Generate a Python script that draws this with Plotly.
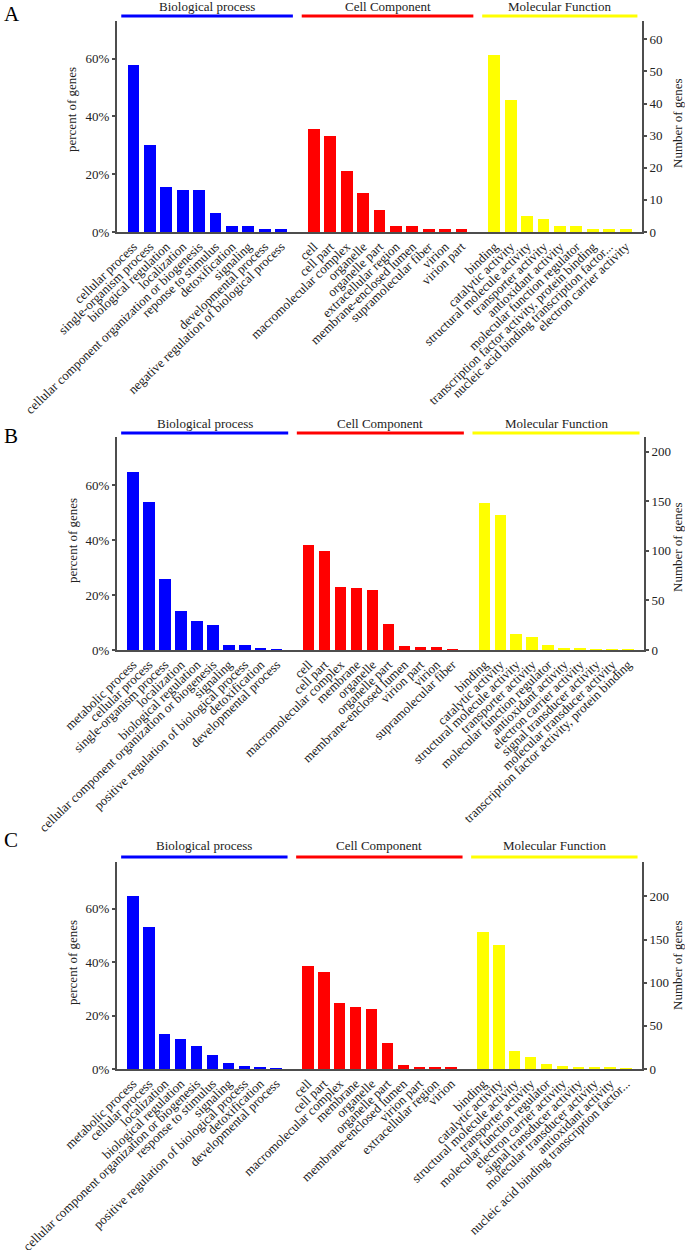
import plotly.graph_objects as go

FONT = "Liberation Serif"
W, H = 685, 1250

group_names = ["Biological process", "Cell Component", "Molecular Function"]
group_colors = ["#0000ff", "#ff0000", "#ffff00"]

# panel A
total_a = 90
a_bp = ["cellular process", "single-organism process", "biological regulation", "localization",
        "cellular component organization or biogenesis", "reponse to stimulus", "detoxification",
        "signaling", "developmental process", "negative regulation of biological process"]
a_bp_n = [52, 27, 14, 13, 13, 6, 2, 2, 1, 1]
a_cc = ["cell", "cell part", "macromolecular complex", "organelle", "organelle part",
        "extracellular region", "membrane-enclosed lumen", "supramolecular fiber", "virion", "virion part"]
a_cc_n = [32, 30, 19, 12, 7, 2, 2, 1, 1, 1]
a_mf = ["binding", "catalytic activity", "structural molecule activity", "transporter activity",
        "antioxidant activity", "molecular function regulator",
        "transcription factor activity, protein binding", "nucleic acid binding transcription factor...",
        "electron carrier activity"]
a_mf_n = [55, 41, 5, 4, 2, 2, 1, 1, 1]

# panel B
total_b = 277
b_bp = ["metabolic process", "cellular process", "single-organism process", "localization",
        "biological regulation", "cellular component organization or biogenesis", "signaling",
        "positive regulation of biological process", "detoxification", "developmental process"]
b_bp_n = [179, 149, 72, 39, 29, 25, 5, 5, 2, 1]
b_cc = ["cell", "cell part", "macromolecular complex", "membrane", "organelle", "organelle part",
        "membrane-enclosed lumen", "virion part", "virion", "supramolecular fiber"]
b_cc_n = [106, 100, 64, 62, 60, 26, 4, 3, 3, 1]
b_mf = ["binding", "catalytic activity", "structural molecule activity", "transporter activity",
        "molecular function regulator", "antioxidant activity", "electron carrier activity",
        "signal transducer activity", "molecular transducer activity",
        "transcription factor activity, protein binding"]
b_mf_n = [148, 136, 16, 13, 5, 2, 2, 1, 1, 1]

# panel C
total_c = 310
c_bp = ["metabolic process", "cellular process", "localization", "biological regulation",
        "cellular component organization or biogenesis", "response to stimulus", "signaling",
        "positive regulation of biological process", "detoxification", "developmental process"]
c_bp_n = [200, 165, 40, 35, 27, 16, 7, 4, 2, 1]
c_cc = ["cell", "cell part", "macromolecular complex", "membrane", "organelle", "organelle part",
        "membrane-enclosed lumen", "virion part", "extracellular region", "virion"]
c_cc_n = [119, 113, 76, 72, 70, 30, 5, 2, 2, 2]
c_mf = ["binding", "catalytic activity", "structural molecule activity", "transporter activity",
        "molecular function regulator", "electron carrier activity", "signal transducer activity",
        "molecular transducer activity", "antioxidant activity",
        "nucleic acid binding transcription factor..."]
c_mf_n = [159, 144, 21, 14, 6, 3, 2, 2, 2, 1]

pct_ticks = [0, 20, 40, 60]

# pixel geometry of each panel (top/bottom of plot area, left/right axes)
panels = [
    dict(label="A", total=total_a, groups=[(a_bp, a_bp_n), (a_cc, a_cc_n), (a_mf, a_mf_n)],
         top=21, bottom=232, left=117, right=642, pmax=73, dtick=10,
         head_y=6, line_y=16, letter_y=14, ltitle_y=110, rtitle_y=123),
    dict(label="B", total=total_b, groups=[(b_bp, b_bp_n), (b_cc, b_cc_n), (b_mf, b_mf_n)],
         top=437, bottom=650, left=117, right=644, pmax=77.5, dtick=50,
         head_y=423, line_y=433, letter_y=436, ltitle_y=541, rtitle_y=547),
    dict(label="C", total=total_c, groups=[(c_bp, c_bp_n), (c_cc, c_cc_n), (c_mf, c_mf_n)],
         top=862, bottom=1069, left=117, right=642, pmax=77.4, dtick=50,
         head_y=845, line_y=857, letter_y=840, ltitle_y=963, rtitle_y=965),
]


def px(x):
    return x / W


def py(y):
    return 1 - y / H


fig = go.Figure()
shapes = []
annotations = []
axis_col = "#4d4d4d"
txt_col = "#222222"


def note(text, x, y, size=13, angle=0, xref="paper", color=txt_col, xanchor="center"):
    annotations.append(dict(text=text, xref=xref, yref="paper", x=x, y=y, textangle=angle,
                            xanchor=xanchor, yanchor="middle", showarrow=False,
                            font=dict(family=FONT, size=size, color=color)))


for k, p in enumerate(panels):
    xa = "x" if k == 0 else f"x{k + 1}"
    yl = "y" if k == 0 else f"y{2 * k + 1}"
    yr = f"y{2 * k + 2}"
    pos = 0
    tickvals, ticktext = [], []
    for g, (terms, counts) in enumerate(p["groups"]):
        xs = list(range(pos, pos + len(terms)))
        pct = [c / p["total"] * 100 for c in counts]
        fig.add_trace(go.Bar(x=xs, y=pct, width=0.72, marker_color=group_colors[g],
                             marker_line_width=0, xaxis=xa, yaxis=yl, showlegend=False))
        fig.add_trace(go.Scatter(x=xs, y=counts, mode="markers", marker_opacity=0,
                                 hoverinfo="skip", xaxis=xa, yaxis=yr, showlegend=False))
        tickvals += xs
        ticktext += terms
        # group header line + title
        x0, x1 = xs[0] - 0.74, xs[-1] + 0.72
        shapes.append(dict(type="line", xref=xa, yref="paper", x0=x0, x1=x1,
                           y0=py(p["line_y"]), y1=py(p["line_y"]),
                           line=dict(color=group_colors[g], width=3)))
        note(group_names[g], (x0 + x1) / 2, py(p["head_y"]), xref=xa)
        pos += len(terms) + 1
    nslots = pos - 1

    dom_x = [px(p["left"]), px(p["right"])]
    dom_y = [py(p["bottom"]), py(p["top"])]
    fig.layout[xa.replace("x", "xaxis")] = dict(
        domain=dom_x, anchor=yl, range=[-1, nslots], tickvals=tickvals, ticktext=ticktext,
        tickangle=-44, showline=True, linecolor=axis_col, linewidth=2, ticks="",
        showgrid=False, zeroline=False, automargin=False,
        tickfont=dict(family=FONT, size=13, color=txt_col))
    fig.layout[yl.replace("y", "yaxis")] = dict(
        domain=dom_y, anchor=xa, range=[0, p["pmax"]], tickvals=pct_ticks,
        ticktext=[f"{v}%" for v in pct_ticks], ticks="outside", ticklen=3, tickcolor=axis_col,
        tickwidth=1.5, showline=True, linecolor=axis_col, linewidth=2, showgrid=False,
        zeroline=False, automargin=False,
        tickfont=dict(family=FONT, size=13, color=txt_col))
    fig.layout[yr.replace("y", "yaxis")] = dict(
        overlaying=yl, anchor=xa, side="right", range=[0, p["pmax"] * p["total"] / 100],
        dtick=p["dtick"], ticks="outside", ticklen=3, tickcolor=axis_col, tickwidth=1.5,
        showline=True, linecolor=axis_col, linewidth=2, showgrid=False, zeroline=False,
        automargin=False, tickfont=dict(family=FONT, size=13, color=txt_col))

    note(p["label"], px(2), py(p["letter_y"]), size=21, color="#000000", xanchor="left")
    note("percent of genes", px(72), py(p["ltitle_y"]), angle=-90)
    note("Number of genes", px(677), py(p["rtitle_y"]), angle=-90)

fig.update_layout(width=W, height=H, margin=dict(l=0, r=0, t=0, b=0),
                  plot_bgcolor="white", paper_bgcolor="white", bargap=0,
                  shapes=shapes, annotations=annotations,
                  font=dict(family=FONT, size=12, color=txt_col))

# drop the default page margin so the figure fills the window exactly
fig.write_html("out.html", config={"displayModeBar": False}, post_script=(
    "document.body.style.margin='0';"
    "document.body.style.overflow='hidden';"
    "document.documentElement.style.overflow='hidden';"))
